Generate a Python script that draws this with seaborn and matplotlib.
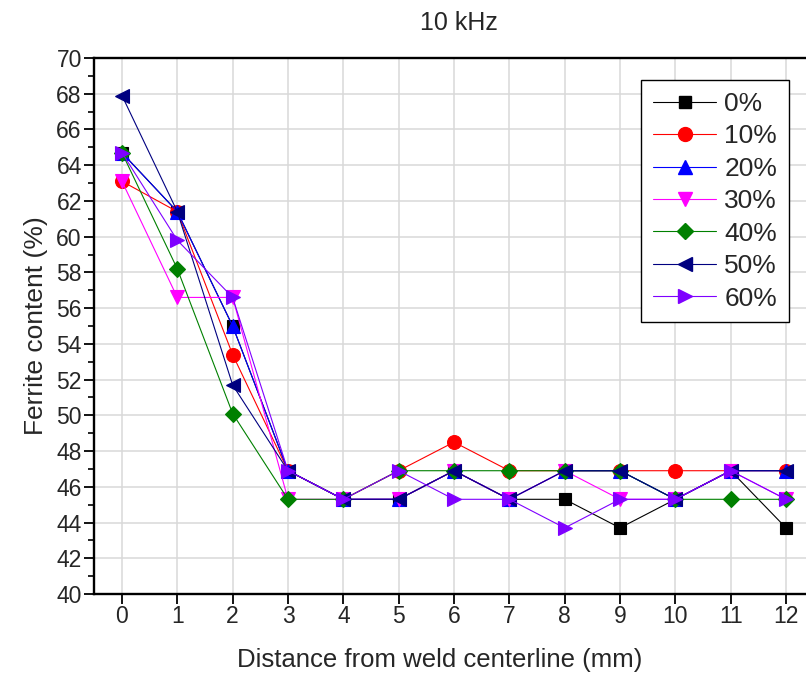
import matplotlib
matplotlib.use("Agg")
import matplotlib.pyplot as plt
import seaborn as sns
import pandas as pd
import numpy as np
from matplotlib.ticker import MultipleLocator

distance = [0, 1, 2, 3, 4, 5, 6, 7, 8, 9, 10, 11, 12]
labels = ["0%", "10%", "20%", "30%", "40%", "50%", "60%"]
s0 = [64.7, 61.4, 55.0, 46.9, 45.3, 45.3, 46.9, 45.3, 45.3, 43.7, 45.3, 46.9, 43.7]
s10 = [63.1, 61.4, 53.4, 46.9, 45.3, 46.9, 48.5, 46.9, 46.9, 46.9, 46.9, 46.9, 46.9]
s20 = [64.7, 61.4, 55.0, 46.9, 45.3, 45.3, 46.9, 45.3, 46.9, 46.9, 45.3, 46.9, 46.9]
s30 = [63.1, 56.6, 56.6, 45.3, 45.3, 45.3, 46.9, 45.3, 46.9, 45.3, 45.3, 46.9, 45.3]
s40 = [64.7, 58.2, 50.1, 45.3, 45.3, 46.9, 46.9, 46.9, 46.9, 46.9, 45.3, 45.3, 45.3]
s50 = [67.9, 61.4, 51.7, 46.9, 45.3, 45.3, 46.9, 45.3, 46.9, 46.9, 45.3, 46.9, 46.9]
s60 = [64.7, 59.8, 56.6, 46.9, 45.3, 46.9, 45.3, 45.3, 43.7, 45.3, 45.3, 46.9, 45.3]
series = [s0, s10, s20, s30, s40, s50, s60]

colors = ["#000000", "#ff0000", "#0000ff", "#ff00ff", "#008000", "#000080", "#7f00ff"]
markers = ["s", "o", "^", "v", "D", "<", ">"]
msizes = [8.5, 10, 10, 10, 8.5, 10, 10]

rows = []
for lab, vals in zip(labels, series):
    for d, v in zip(distance, vals):
        rows.append({"Distance": d, "Ferrite": v, "Series": lab})
df = pd.DataFrame(rows)

sns.set_theme(style="white")
plt.rcParams['font.family'] = ['Liberation Sans', 'DejaVu Sans']

fig = plt.figure(figsize=(8.06, 6.81), dpi=100)
ax = fig.add_axes([94.3 / 806, (681 - 594) / 681, (813.7 - 94.3) / 806, (594 - 58) / 681])

sns.lineplot(data=df, x="Distance", y="Ferrite", hue="Series", style="Series",
             hue_order=labels, style_order=labels, palette=colors,
             markers=markers, dashes=False, linewidth=0.8, legend=False,
             ax=ax, estimator=None, sort=False)

for line, c, ms in zip(ax.lines, colors, msizes):
    line.set_markeredgecolor(c)
    line.set_markerfacecolor(c)
    line.set_markersize(ms)
    line.set_markeredgewidth(0.8)

ax.set_xlim(-0.5, 12.5)
ax.set_ylim(40, 70)
ax.xaxis.set_major_locator(MultipleLocator(1))
ax.yaxis.set_major_locator(MultipleLocator(2))
ax.yaxis.set_minor_locator(MultipleLocator(1))
ax.grid(True, which="major", color="#d9d9d9", linewidth=1.1)
ax.set_axisbelow(True)

for sp in ["left", "bottom", "top"]:
    ax.spines[sp].set_visible(True)
    ax.spines[sp].set_color("black")
    ax.spines[sp].set_linewidth(1.7)
ax.spines["right"].set_visible(False)

ax.tick_params(axis="both", which="major", direction="out", length=7, width=1.3,
               color="black", labelsize=16.5, bottom=True, left=True)
ax.tick_params(axis="y", which="minor", direction="out", length=4, width=1.2,
               color="black", left=True)
ax.tick_params(axis="x", pad=1)
ax.tick_params(axis="y", pad=2)

ax.set_xlabel("Distance from weld centerline (mm)", fontsize=18.5, labelpad=16)
ax.xaxis.set_label_coords((440 - 94.3) / (813.7 - 94.3), -0.1)
ax.set_ylabel("Ferrite content (%)", fontsize=19, labelpad=6)
ax.set_title("10 kHz", fontsize=18, pad=20, x=0.507)

handles = [plt.Line2D([], [], color=c, marker=m, markersize=ms, linewidth=0.8,
                      markeredgecolor=c, markerfacecolor=c)
           for c, m, ms in zip(colors, markers, msizes)]
leg = ax.legend(handles, labels, loc="upper left",
                bbox_to_anchor=((641 - 94.3) / (813.7 - 94.3), (594 - 80) / (594 - 58)),
                fontsize=19, frameon=True, fancybox=False, edgecolor="black",
                framealpha=1, borderpad=0.45, labelspacing=0.32, handlelength=2.4,
                handletextpad=0.3, borderaxespad=0)
leg.get_frame().set_linewidth(1.0)

fig.savefig("out.png", dpi=100)
